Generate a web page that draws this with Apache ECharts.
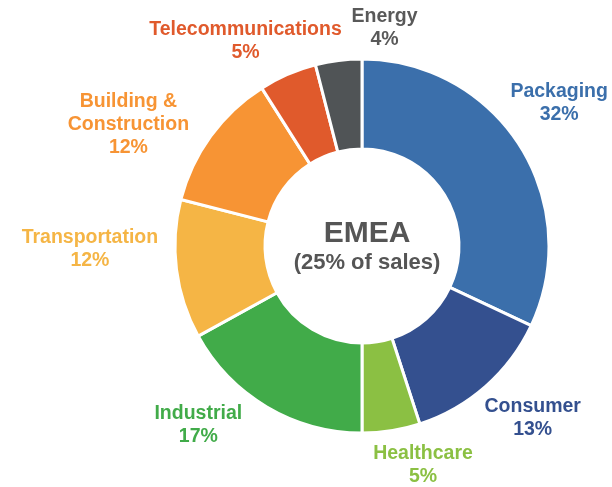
<!DOCTYPE html>
<html>
<head>
<meta charset="utf-8">
<script src="https://cdn.jsdelivr.net/npm/echarts@6/dist/echarts.min.js"></script>
<style>html,body{margin:0;padding:0;background:#fff}#chart{width:612px;height:487px}</style>
</head>
<body>
<div id="chart"></div>
<script>
var categories = ['Packaging', 'Consumer', 'Healthcare', 'Industrial', 'Transportation', 'Building &\nConstruction', 'Telecommunications', 'Energy'];
var shares = [32, 13, 5, 17, 12, 12, 5, 4];
var colors = ['#3b6fab', '#34508f', '#8bc043', '#41ab49', '#f5b545', '#f79434', '#e05a2c', '#505456'];
var labelColors = ['#3b6fab', '#34508f', '#8bc043', '#41ab49', '#f5b545', '#f79434', '#e05a2c', '#595959'];

// hand placement of the labels, like the original slide (offsets from ring position)
var labelNudge = [[-8, -13], [10, -10], [23, -21], [-40, -30], [-31, -27], [-37, 21], [-20, 18], [53, 23]];

var myChart = echarts.init(document.getElementById('chart'));

var sliceData = categories.map(function (c, i) {
    return { name: c, value: shares[i], itemStyle: { color: colors[i] } };
});
var labelData = categories.map(function (c, i) {
    return { name: c, value: shares[i], label: { color: labelColors[i] } };
});

var option = {
    animation: false,
    title: {
        text: 'EMEA',
        subtext: '(25% of sales)',
        left: 362,
        top: 214,
        textAlign: 'center',
        itemGap: 3,
        textStyle: { fontFamily: 'Liberation Sans', fontSize: 30, fontWeight: 'bold', color: '#555555' },
        subtextStyle: { fontFamily: 'Liberation Sans', fontSize: 22, fontWeight: 'bold', color: '#555555' }
    },
    series: [{
        type: 'pie',
        center: [362, 246],
        radius: [97, 187],
        startAngle: 90,
        clockwise: true,
        silent: true,
        itemStyle: { borderColor: '#ffffff', borderWidth: 3 },
        label: { show: false },
        labelLine: { show: false },
        data: sliceData
    }, {
        // transparent ring that only carries the labels
        type: 'pie',
        center: [362, 246],
        radius: [187, 293],
        startAngle: 90,
        clockwise: true,
        silent: true,
        itemStyle: { color: 'transparent' },
        label: {
            show: true,
            position: 'inside',
            formatter: '{b}\n{c}%',
            fontFamily: 'Liberation Sans',
            fontSize: 19.5,
            fontWeight: 'bold',
            lineHeight: 23,
            align: 'center'
        },
        labelLine: { show: false },
        labelLayout: function (params) {
            var n = labelNudge[params.dataIndex];
            return { dx: n[0], dy: n[1] };
        },
        data: labelData
    }]
};

myChart.setOption(option);
</script>
</body>
</html>
